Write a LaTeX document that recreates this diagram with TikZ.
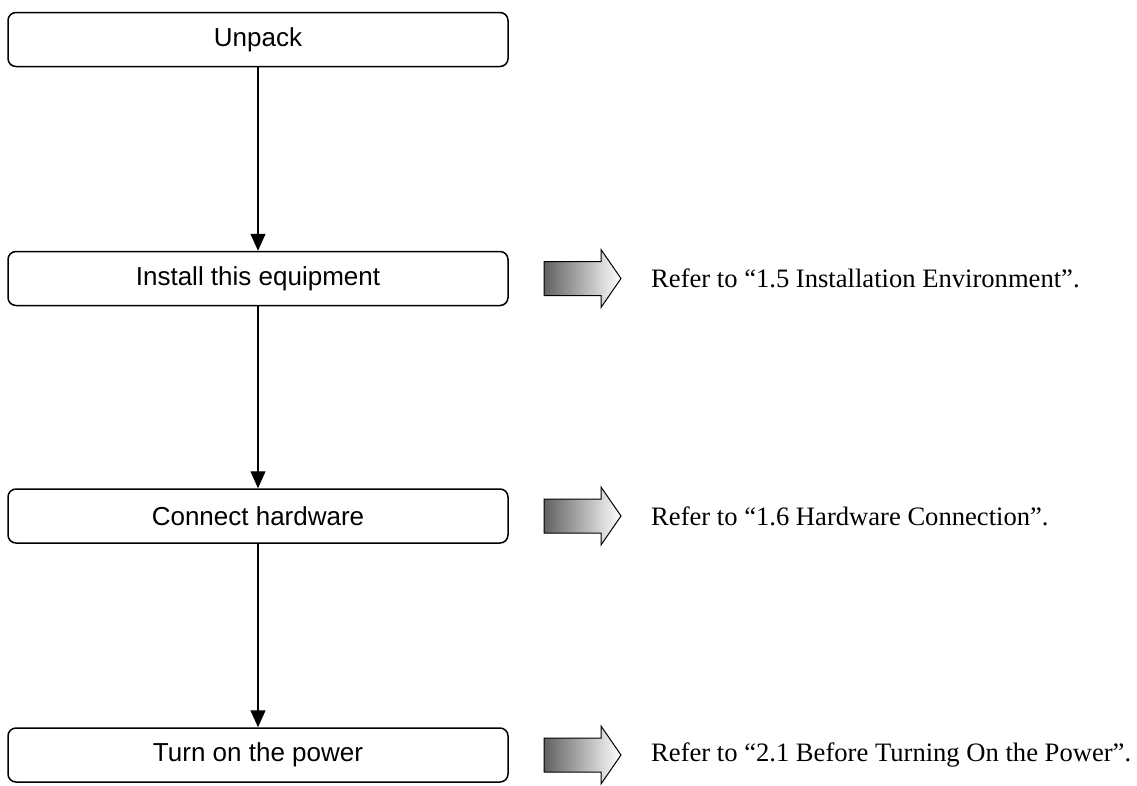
\documentclass[tikz,border=0pt]{standalone}
\usepackage{fontspec}
\setmainfont{Liberation Serif}
\newfontfamily\boxfont{Liberation Sans}
\usetikzlibrary{arrows.meta}
\tikzset{
  stepbox/.style={draw=black, line width=1.5pt, rounded corners=8pt, minimum width=500pt, minimum height=54pt, inner sep=0pt, font=\boxfont\fontsize{26}{30}\selectfont},
  flow/.style={draw=black, line width=1.2pt, -{Triangle[width=15pt,length=17pt]}},
  garrow/.style={draw=black, line width=1pt, left color=black!62, right color=white},
  reftext/.style={anchor=west, inner sep=0pt, font=\fontsize{26.6}{31}\selectfont}
}
\newcommand{\gradarrow}[1]{%
  \shadedraw[garrow] (544,#1-17) -- (601,#1-17) -- (601,#1-29) -- (621,#1) -- (601,#1+29) -- (601,#1+17) -- (544,#1+17) -- cycle;}
\begin{document}
\begin{tikzpicture}[x=1pt,y=-1pt]
\useasboundingbox (0,0) rectangle (1137,785);
\node[stepbox] (unpack) at (258,39.5) {Unpack};
\node[stepbox] (install) at (258,278.5) {Install this equipment};
\node[stepbox] (connect) at (258,516) {Connect hardware};
\node[stepbox] (power) at (258,755) {Turn on the power};
\draw[flow] (unpack) -- (install);
\draw[flow] (install) -- (connect);
\draw[flow] (connect) -- (power);
\gradarrow{278.5}
\gradarrow{516}
\gradarrow{755}
\node[reftext] (ref1) at (651,278.5) {Refer to “1.5 Installation Environment”.};
\node[reftext] (ref2) at (651,516) {Refer to “1.6 Hardware Connection”.};
\node[reftext] (ref3) at (651,755) {Refer to “2.1 Before Turning On the Power”.};
\end{tikzpicture}
\end{document}
